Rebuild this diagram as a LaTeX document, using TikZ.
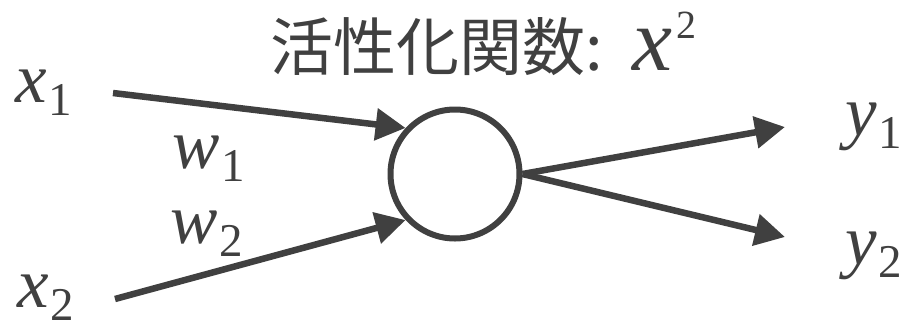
\documentclass[tikz,border=0pt]{standalone}
\usepackage{fontspec}
\setmainfont{Noto Sans CJK JP}
\newfontfamily\varfont{Liberation Serif}
\usetikzlibrary{arrows.meta}
\definecolor{ink}{HTML}{404040}
\newcommand\vsub[2]{{\varfont\fontsize{71}{75}\selectfont\itshape #1}\kern2pt\raisebox{-13pt}{\varfont\fontsize{47}{50}\selectfont #2}}
\begin{document}
\begin{tikzpicture}[x=1pt,y=-1pt,
  lbl/.style={inner sep=0pt,anchor=base west,text=ink},
  arr/.style={draw=ink,line width=6.5pt,-{Triangle[length=30pt,width=31pt]}},
  neuron/.style={circle,draw=ink,line width=6pt,minimum size=129pt,inner sep=0pt}]
\useasboundingbox (0,0) rectangle (911,325);
\node[inner sep=0pt,anchor=base west,text=ink] (title) at (270,70)
  {\fontsize{63}{70}\selectfont 活性化関数:\hspace{30pt}{\varfont\fontsize{90}{95}\selectfont\itshape x}\kern4pt\raisebox{32pt}{\varfont\fontsize{40}{44}\selectfont 2}};
\node[neuron] (n) at (455,174) {};
\node[lbl] (x1) at (15,102) {\vsub{x}{1}};
\node[lbl] (x2) at (17,307) {\vsub{x}{2}};
\node[lbl] (w1) at (172,168) {\vsub{w}{1}};
\node[lbl] (w2) at (170,243) {\vsub{w}{2}};
\node[lbl] (y1) at (845,135) {\vsub{y}{1}};
\node[lbl] (y2) at (845,264) {\vsub{y}{2}};
\coordinate (s1) at (113,93);
\coordinate (s2) at (115,299);
\coordinate (t1) at (785,127);
\coordinate (t2) at (785,237);
\draw[arr] (s1) -- (n.137);
\draw[arr] (s2) -- (n.223);
\draw[arr] (n.east) -- (t1);
\draw[arr] (n.east) -- (t2);
\end{tikzpicture}
\end{document}
